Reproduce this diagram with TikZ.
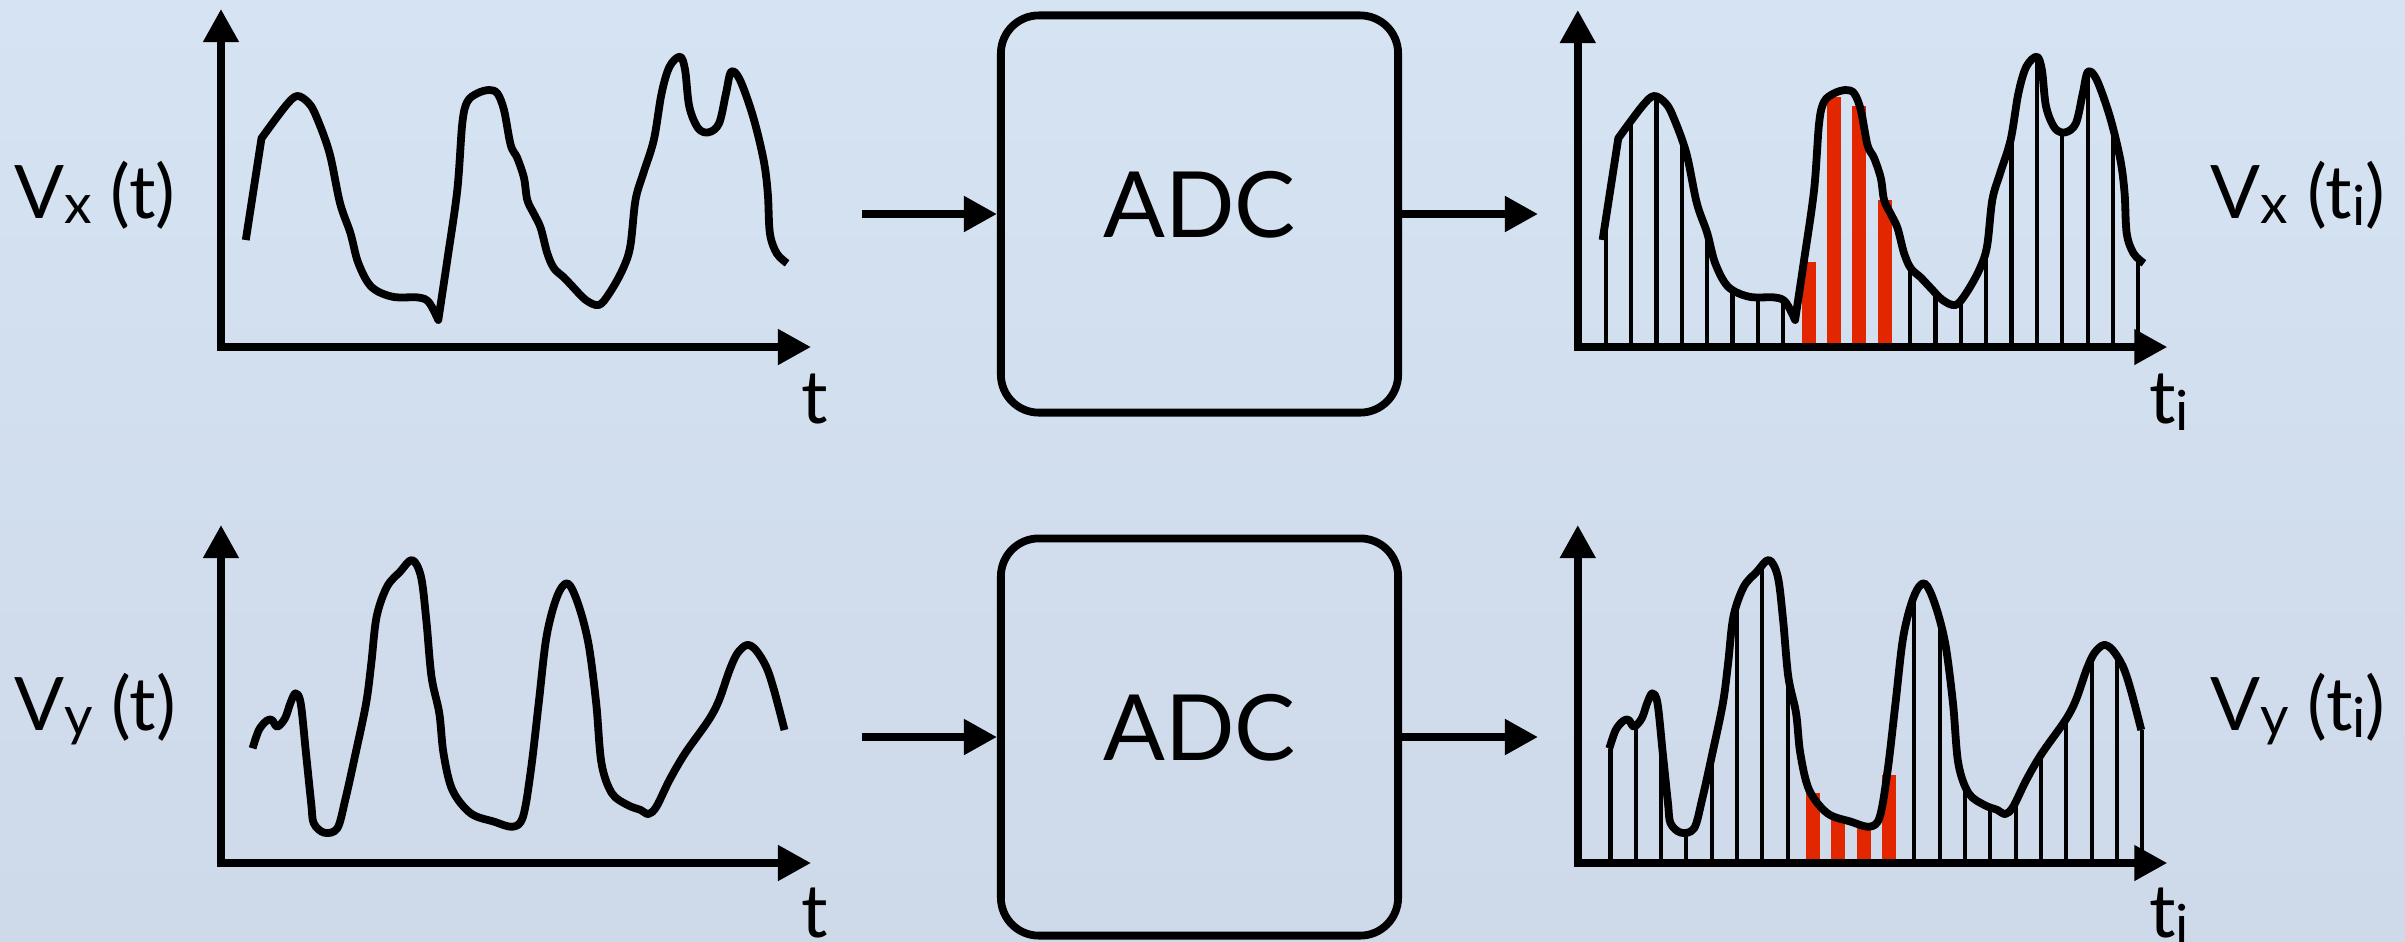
\documentclass[tikz,border=0pt]{standalone}
\usepackage{fontspec}
\setmainfont{Lato}
\usetikzlibrary{arrows.meta}
\definecolor{bgtop}{RGB}{213,227,243}
\definecolor{bgbot}{RGB}{206,217,233}
\definecolor{barred}{RGB}{226,38,0}
\newcommand\lsub[2]{\raisebox{-#1}{\fontsize{15.7}{18}\selectfont #2}}
\newcommand\topcurve[2]{#1 (245.8,240) -- plot[smooth,tension=0.55] coordinates {(261.5,138.3) (285,106.7) (297,96) (308.6,103) (316.4,116.7) (329.5,153) (340,203) (350.4,233) (358.3,263) (371.3,286.7) (392.3,296.7) (418.4,297.5) (428.9,302.3) (438.3,320)} -- plot[smooth,tension=0.55] coordinates {(438.3,320) (447.3,260) (457.3,190) (462.3,123.3) (467.3,101.7) (477.3,93.3) (489,90) (497.3,93.3) (504,110) (510.7,145) (517.3,158) (524,178) (527.3,200) (534,214) (540.7,228) (547.3,253.3) (554,268.3) (564,277.5) (572.7,286.7) (585.8,300) (598.8,305) (609.3,293.3) (622.4,270) (630.2,246.7) (635.5,200) (643.3,173.3) (653.8,140) (661.6,93.3) (669.5,66.7) (680,56.7) (685.1,70) (689.3,106.7) (698.2,128.3) (708.7,132.3) (719.1,123.3) (726,93.3) (731.2,71.7) (740,80) (753.1,116.7) (763.6,160) (767.8,193.3) (769.9,233.3) (776.7,253.3) (787.1,263.3)} #2}
\newcommand\botcurve[2]{#1 (252.6,748.3) -- plot[smooth,tension=0.55] coordinates {(252.6,748.3) (258.9,730) (266.7,720.7) (272,720) (277.2,726.7) (285,718.3) (290.3,703.3) (295.5,693.3) (300.7,703.3) (306,753.3) (311.2,803.3) (313.8,823.3) (324.3,832.7) (337.3,828.3) (345.2,800) (355.6,753.3) (366.1,703.3) (371.3,663.3) (376.6,616.7) (387,586.7) (400.1,571.7) (412.1,560) (421,576.7) (426.3,620) (431.5,676.7) (439.3,713.3) (443.5,753.3) (452.4,790) (470.7,813.3) (494.2,821.7) (512.6,826.7) (523,816.7) (530.9,770) (538.7,703.3) (546.5,636.7) (557,596.7) (567.5,583.3) (577.9,603.3) (588.4,643.3) (596.2,703.3) (601.5,763.3) (611.9,793.3) (627.6,805) (640.7,810) (648.5,814) (656.4,806.7) (669.5,780) (685.1,753.3) (708.7,720) (719.1,700) (729.6,670) (737.4,653.3) (746.9,645) (755.8,650) (766.2,666.7) (774,690) (784.5,730)} #2}
\tikzset{
  >={Triangle[length=3.3mm,width=3.4mm]},
  curve/.style={line width=0.078cm, line join=round, line cap=butt},
  axis/.style={line width=0.076cm, line join=miter, <->},
  conn/.style={line width=0.078cm, ->},
  sample/.style={line width=0.042cm},
  redbar/.style={fill=barred, draw=none},
  adc/.style={draw, line width=0.078cm, rounded corners=0.38cm, minimum width=3.97cm, minimum height=3.97cm, inner sep=0pt, font=\fontsize{26}{30}\selectfont, text height=0.66cm, text depth=0.2cm},
  lbl/.style={inner sep=0pt, font=\fontsize{21}{25}\selectfont}
}
\begin{document}
\begin{tikzpicture}[x=0.01cm,y=-0.01cm]
\useasboundingbox (0,0) rectangle (2405,941);
\shade[top color=bgtop, bottom color=bgbot] (0,0) rectangle (2405,941);

% ---------- top row ----------
\topcurve{\draw[curve]}{;}
\draw[axis] (221,9) |- (811,347);
\node[lbl,anchor=base] (lx) at (95,218) {V\lsub{0.05cm}{x} (t)};
\node[lbl,anchor=base] (ta) at (815,423) {t};

\node[adc] (adc1) at (1199.5,214) {ADC};
\coordinate (in1) at (862,214);
\coordinate (out1) at (1538,214);
\draw[conn] (in1) -- (adc1.west);
\draw[conn] (adc1.east) -- (out1);

\begin{scope}[xshift=13.56cm]
  \begin{scope}
    \topcurve{\clip (241,347) -- (241,240) --}{-- (792,263.3) -- (792,347) -- cycle;}
    \foreach \i in {0,...,7,12,13,...,21}
      \draw[sample] ({249+25.36*\i},350) -- ({249+25.36*\i},0);
  \end{scope}
  \foreach \i/\t in {8/261.7, 9/96.7, 10/106, 11/200}
    \fill[redbar] ({249+25.36*\i-7},\t) rectangle ({249+25.36*\i+7},347);
  \topcurve{\draw[curve]}{;}
  \draw[axis] (221,10) |- (810.5,347);
\end{scope}
\node[lbl,anchor=base] (lxi) at (2298,218) {V\lsub{0.05cm}{x} (t\lsub{0.07cm}{i})};
\node[lbl,anchor=base] (tia) at (2169,423) {t\lsub{0.07cm}{i}};

% ---------- bottom row ----------
\botcurve{\draw[curve]}{;}
\draw[axis] (221,525) |- (811,863);
\node[lbl,anchor=base] (ly) at (95,730) {V\lsub{0.05cm}{y} (t)};
\node[lbl,anchor=base] (tb) at (815,937) {t};

\node[adc] (adc2) at (1199.5,737) {ADC};
\coordinate (in2) at (862,737);
\coordinate (out2) at (1538,737);
\draw[conn] (in2) -- (adc2.west);
\draw[conn] (adc2.east) -- (out2);

\begin{scope}[xshift=13.56cm]
  \begin{scope}
    \botcurve{\clip (248,863) -- (248,748.3) --}{-- (789,730) -- (789,863) -- cycle;}
    \foreach \i in {0,...,7,12,13,...,21}
      \draw[sample] ({253.6+25.33*\i},866) -- ({253.6+25.33*\i},500);
  \end{scope}
  \foreach \i/\t in {8/793, 9/817, 10/828, 11/775}
    \fill[redbar] ({253.6+25.33*\i-7},\t) rectangle ({253.6+25.33*\i+7},863);
  \botcurve{\draw[curve]}{;}
  \draw[axis] (221,525) |- (810.5,863);
\end{scope}
\node[lbl,anchor=base] (lyi) at (2298,730) {V\lsub{0.05cm}{y} (t\lsub{0.07cm}{i})};
\node[lbl,anchor=base] (tib) at (2169,937) {t\lsub{0.07cm}{i}};
\end{tikzpicture}
\end{document}
